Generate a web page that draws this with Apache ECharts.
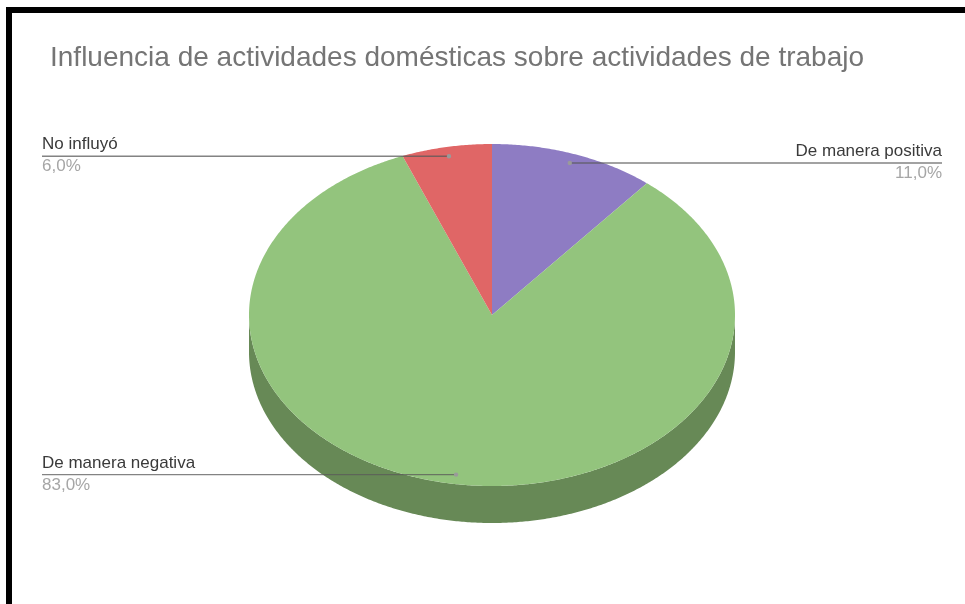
<!DOCTYPE html>
<html>
<head>
<meta charset="utf-8">
<style>html,body{margin:0;padding:0;background:#fff}#c{width:965px;height:604px}</style>
<script src="https://cdn.jsdelivr.net/npm/echarts@6/dist/echarts.min.js"></script>
</head>
<body>
<div id="c"></div>
<script>
var titleText = 'Influencia de actividades domésticas sobre actividades de trabajo';
var categories = ['De manera positiva', 'De manera negativa', 'No influyó'];
var shares = [11, 83, 6];
var sliceColors = ['#8e7cc3', '#93c47d', '#e06666'];
var rimColors = ['#63568a', '#678956', '#9d4747'];

var chart = echarts.init(document.getElementById('c'), null, {renderer: 'canvas'});
var FONT = '"Liberation Sans", Arial, sans-serif';
var CX = 492, CY = 315, RX = 243, RY = 171, DEPTH = 37, DOT = 0.945;
var LEFT = 42, RIGHT = 942;
var total = shares.reduce(function (a, b) { return a + b; }, 0);

function pt(a, dy, k) {
  k = k === undefined ? 1 : k;
  return [CX + RX * k * Math.sin(a), CY + (dy || 0) - RY * k * Math.cos(a)];
}
function arc(a0, a1, dy) {
  var pts = [], n = Math.max(2, Math.ceil(Math.abs(a1 - a0) / 0.008));
  for (var i = 0; i <= n; i++) pts.push(pt(a0 + (a1 - a0) * i / n, dy));
  return pts;
}
function renderSlice(params, api) {
  var i = params.dataIndex, before = 0;
  for (var j = 0; j < i; j++) before += shares[j];
  var value = api.value(0);
  var a0 = before / total * 2 * Math.PI;
  var a1 = (before + value) / total * 2 * Math.PI;
  var mid = (a0 + a1) / 2;
  var children = [];

  // side wall: only the part of the slice on the lower half of the ellipse
  var r0 = Math.max(a0, Math.PI / 2), r1 = Math.min(a1, Math.PI * 1.5);
  if (r1 > r0) {
    children.push({
      type: 'polygon', z2: 1,
      shape: {points: arc(r0, r1, 0).concat(arc(r1, r0, DEPTH))},
      style: {fill: rimColors[i]}
    });
  }
  // top face
  children.push({
    type: 'polygon', z2: 2,
    shape: {points: [[CX, CY]].concat(arc(a0, a1, 0))},
    style: {fill: sliceColors[i]}
  });
  // leader line, dot and label
  var d = pt(mid, 0, DOT), onLeft = d[0] < CX, ex = onLeft ? LEFT : RIGHT;
  children.push({
    type: 'line', z2: 10,
    shape: {x1: d[0], y1: d[1], x2: ex, y2: d[1]},
    style: {stroke: 'rgba(90,90,90,0.75)', lineWidth: 1.4}
  });
  children.push({
    type: 'circle', z2: 11,
    shape: {cx: d[0], cy: d[1], r: 2.2},
    style: {fill: '#9a9a9a'}
  });
  children.push({
    type: 'text', z2: 12,
    style: {
      x: ex, y: d[1] - 3, text: categories[i], fill: '#3a3a3a',
      font: '17px ' + FONT, align: onLeft ? 'left' : 'right', verticalAlign: 'bottom'
    }
  });
  children.push({
    type: 'text', z2: 12,
    style: {
      x: ex, y: d[1] + 2, text: value.toFixed(1).replace('.', ',') + '%', fill: '#a6a6a6',
      font: '17px ' + FONT, align: onLeft ? 'left' : 'right', verticalAlign: 'top'
    }
  });
  return {type: 'group', children: children};
}

chart.setOption({
  animation: false,
  backgroundColor: '#ffffff',
  title: {
    text: titleText, left: 45, top: 39,
    textStyle: {color: '#757575', fontSize: 28, fontWeight: 'normal', fontFamily: FONT}
  },
  graphic: [
    {type: 'rect', shape: {x: 6, y: 7, width: 959, height: 6}, style: {fill: '#000'}},
    {type: 'rect', shape: {x: 6, y: 7, width: 6, height: 597}, style: {fill: '#000'}}
  ],
  series: [{
    type: 'custom',
    coordinateSystem: 'none',
    silent: true,
    renderItem: renderSlice,
    data: shares.map(function (v, i) { return {name: categories[i], value: [v]}; })
  }]
});
</script>
</body>
</html>
